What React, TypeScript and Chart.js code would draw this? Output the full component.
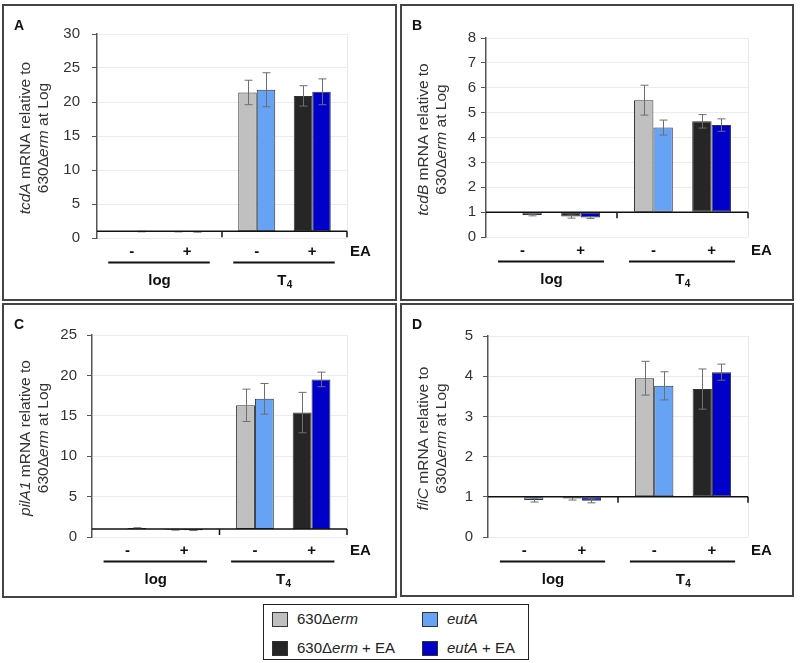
import React, { useEffect, useRef } from 'react';
import { Chart, registerables } from 'chart.js';

Chart.register(...registerables);

const FONT = '"Liberation Sans", Arial, Helvetica, sans-serif';

// ---- shared categories / labels ----
const groups = ['log', 'T4'];
const eaSigns = ['-', '+'];
const seriesLabels = ['630Δerm', 'eutA', '630Δerm + EA', 'eutA + EA'];
const seriesColors = ['#c0c0c0', '#66a3f5', '#262626', '#0000c8'];

// ---- Panel A: tcdA ----
const tcdA_wt = [1.0, 21.4];
const tcdA_wt_err = [0.0, 1.8];
const tcdA_eutA = [0.95, 21.8];
const tcdA_eutA_err = [0.04, 2.5];
const tcdA_wtEA = [0.93, 20.9];
const tcdA_wtEA_err = [0.03, 1.5];
const tcdA_eutAEA = [0.9, 21.5];
const tcdA_eutAEA_err = [0.04, 1.9];

// ---- Panel B: tcdB ----
const tcdB_wt = [1.0, 5.5];
const tcdB_wt_err = [0.0, 0.6];
const tcdB_eutA = [0.88, 4.4];
const tcdB_eutA_err = [0.03, 0.3];
const tcdB_wtEA = [0.82, 4.65];
const tcdB_wtEA_err = [0.06, 0.27];
const tcdB_eutAEA = [0.78, 4.5];
const tcdB_eutAEA_err = [0.04, 0.25];

// ---- Panel C: pilA1 ----
const pilA1_wt = [1.0, 16.3];
const pilA1_wt_err = [0.0, 2.0];
const pilA1_eutA = [1.1, 17.1];
const pilA1_eutA_err = [0.05, 1.9];
const pilA1_wtEA = [0.9, 15.4];
const pilA1_wtEA_err = [0.05, 2.5];
const pilA1_eutAEA = [0.85, 19.5];
const pilA1_eutAEA_err = [0.05, 0.9];

// ---- Panel D: fliC ----
const fliC_wt = [1.0, 3.95];
const fliC_wt_err = [0.0, 0.42];
const fliC_eutA = [0.92, 3.76];
const fliC_eutA_err = [0.05, 0.35];
const fliC_wtEA = [0.96, 3.68];
const fliC_wtEA_err = [0.04, 0.5];
const fliC_eutAEA = [0.9, 4.1];
const fliC_eutAEA_err = [0.05, 0.2];

// y-axis ranges
const yMaxA = 30, yStepA = 5;
const yMaxB = 8, yStepB = 1;
const yMaxC = 25, yStepC = 5;
const yMaxD = 5, yStepD = 1;

type Seg = { t: string; i?: boolean };

type PanelCfg = {
  letter: string;
  gene: string;
  box: { left: number; top: number; w: number; h: number };
  area: { l: number; r: number; t: number; b: number };
  yMax: number;
  step: number;
  tickPad: number;
  values: number[][];
  errors: number[][];
};

const panels: PanelCfg[] = [
  {
    letter: 'A', gene: 'tcdA',
    box: { left: 2, top: 4, w: 395, h: 297 },
    area: { l: 97, r: 347, t: 34, b: 238 },
    yMax: yMaxA, step: yStepA, tickPad: 12,
    values: [tcdA_wt, tcdA_eutA, tcdA_wtEA, tcdA_eutAEA],
    errors: [tcdA_wt_err, tcdA_eutA_err, tcdA_wtEA_err, tcdA_eutAEA_err],
  },
  {
    letter: 'B', gene: 'tcdB',
    box: { left: 400, top: 4, w: 394, h: 297 },
    area: { l: 486, r: 748, t: 38, b: 237 },
    yMax: yMaxB, step: yStepB, tickPad: 5,
    values: [tcdB_wt, tcdB_eutA, tcdB_wtEA, tcdB_eutAEA],
    errors: [tcdB_wt_err, tcdB_eutA_err, tcdB_wtEA_err, tcdB_eutAEA_err],
  },
  {
    letter: 'C', gene: 'pilA1',
    box: { left: 2, top: 303, w: 395, h: 295 },
    area: { l: 92, r: 347, t: 335, b: 537 },
    yMax: yMaxC, step: yStepC, tickPad: 10,
    values: [pilA1_wt, pilA1_eutA, pilA1_wtEA, pilA1_eutAEA],
    errors: [pilA1_wt_err, pilA1_eutA_err, pilA1_wtEA_err, pilA1_eutAEA_err],
  },
  {
    letter: 'D', gene: 'fliC',
    box: { left: 400, top: 303, w: 394, h: 294 },
    area: { l: 488, r: 748, t: 336, b: 537 },
    yMax: yMaxD, step: yStepD, tickPad: 10,
    values: [fliC_wt, fliC_eutA, fliC_wtEA, fliC_eutAEA],
    errors: [fliC_wt_err, fliC_eutA_err, fliC_wtEA_err, fliC_eutAEA_err],
  },
];

function fontStr(size: number, italic = false, bold = false) {
  return `${italic ? 'italic ' : ''}${bold ? 'bold ' : ''}${size}px ${FONT}`;
}

function drawSegs(ctx: CanvasRenderingContext2D, segs: Seg[], x: number, y: number, size: number, bold = false) {
  const widths = segs.map((s) => {
    ctx.font = fontStr(size, !!s.i, bold);
    return ctx.measureText(s.t).width;
  });
  const total = widths.reduce((a, b) => a + b, 0);
  let cx = x - total / 2;
  ctx.textAlign = 'left';
  segs.forEach((s, k) => {
    ctx.font = fontStr(size, !!s.i, bold);
    ctx.fillText(s.t, cx, y);
    cx += widths[k];
  });
}

function makePlugin(p: PanelCfg) {
  return {
    id: 'decor' + p.letter,
    beforeDatasetsDraw(chart: any) {
      const { ctx, chartArea: a } = chart;
      ctx.save();
      ctx.strokeStyle = '#e8e8e8';
      ctx.lineWidth = 1;
      ctx.beginPath();
      ctx.moveTo(a.right + 0.5, a.top);
      ctx.lineTo(a.right + 0.5, a.bottom);
      ctx.stroke();
      ctx.restore();
    },
    afterDatasetsDraw(chart: any) {
      const { ctx, chartArea: a, scales } = chart;
      const y = scales.y;
      const x = scales.x;
      ctx.save();
      // error bars
      chart.data.datasets.forEach((ds: any, di: number) => {
        const errs = ds.errors;
        if (!errs) return;
        const meta = chart.getDatasetMeta(di);
        meta.data.forEach((el: any, k: number) => {
          const v = ds.data[k];
          const e = errs[k];
          if (v == null || !e) return;
          const top = y.getPixelForValue(v + e);
          const bot = y.getPixelForValue(v - e);
          const px = Math.round(el.x) + 0.5;
          ctx.strokeStyle = '#6e6e6e';
          ctx.lineWidth = 1;
          ctx.beginPath();
          ctx.moveTo(px, top);
          ctx.lineTo(px, bot);
          ctx.moveTo(px - 4, top);
          ctx.lineTo(px + 4, top);
          ctx.moveTo(px - 4, bot);
          ctx.lineTo(px + 4, bot);
          ctx.stroke();
        });
      });
      // horizontal axis crossing at 1
      const y1 = y.getPixelForValue(1);
      ctx.strokeStyle = '#111';
      ctx.lineWidth = 1.5;
      ctx.beginPath();
      ctx.moveTo(a.left, y1);
      ctx.lineTo(a.right, y1);
      const mid = (x.getPixelForValue(0) + x.getPixelForValue(1)) / 2;
      ctx.moveTo(mid, y1);
      ctx.lineTo(mid, y1 + 6);
      ctx.moveTo(a.right, y1);
      ctx.lineTo(a.right, y1 + 6);
      ctx.stroke();
      ctx.restore();
    },
    afterDraw(chart: any) {
      const { ctx, chartArea: a, scales } = chart;
      const x = scales.x;
      ctx.save();
      ctx.fillStyle = '#111';
      ctx.textBaseline = 'middle';
      const m0 = chart.getDatasetMeta(0);
      const m1 = chart.getDatasetMeta(1);
      const m3 = chart.getDatasetMeta(3);
      const m4 = chart.getDatasetMeta(4);
      groups.forEach((g, i) => {
        const minusX = (m0.data[i].x + m1.data[i].x) / 2;
        const plusX = (m3.data[i].x + m4.data[i].x) / 2;
        ctx.font = fontStr(15, false, true);
        ctx.textAlign = 'center';
        ctx.fillText(eaSigns[0], minusX, a.bottom + 14);
        ctx.fillText(eaSigns[1], plusX, a.bottom + 14);
        const w = m0.data[i].width;
        const lx0 = m0.data[i].x - w / 2 - 5;
        const lx1 = m4.data[i].x + w / 2 + 4;
        ctx.fillRect(lx0, a.bottom + 23.5, lx1 - lx0, 2);
        const cx = x.getPixelForValue(i);
        if (g === 'T4') {
          ctx.font = fontStr(15, false, true);
          const tw = ctx.measureText('T').width;
          ctx.font = fontStr(10, false, true);
          const sw = ctx.measureText('4').width;
          const sx = cx - (tw + sw) / 2;
          ctx.textAlign = 'left';
          ctx.font = fontStr(15, false, true);
          ctx.fillText('T', sx, a.bottom + 43);
          ctx.font = fontStr(10, false, true);
          ctx.fillText('4', sx + tw + 0.5, a.bottom + 47);
        } else {
          ctx.font = fontStr(15, false, true);
          ctx.textAlign = 'center';
          ctx.fillText(g, cx, a.bottom + 43);
        }
      });
      ctx.font = fontStr(15, false, true);
      ctx.textAlign = 'left';
      ctx.fillText('EA', a.right + 3, a.bottom + 14);

      // panel letter
      ctx.textBaseline = 'alphabetic';
      ctx.font = fontStr(14, false, true);
      ctx.fillStyle = '#111';
      ctx.fillText(p.letter, 10, 24);

      // y-axis title (two rotated lines)
      ctx.fillStyle = '#333';
      ctx.textBaseline = 'middle';
      const cy = (a.top + a.bottom) / 2 + 2;
      const line1: Seg[] = [{ t: p.gene, i: true }, { t: ' mRNA relative to' }];
      const line2: Seg[] = [{ t: '630Δ' }, { t: 'erm', i: true }, { t: ' at Log' }];
      [[line1, 22], [line2, 40]].forEach(([segs, lx]: any) => {
        ctx.save();
        ctx.translate(lx, cy);
        ctx.rotate(-Math.PI / 2);
        drawSegs(ctx, segs, 0, 0, 15.5);
        ctx.restore();
      });
      ctx.restore();
    },
  };
}

function Panel({ p }: { p: PanelCfg }) {
  const ref = useRef<HTMLCanvasElement>(null);
  const b = p.box;
  const cl = b.left + 2;
  const ct = b.top + 2;
  const cw = b.w - 4;
  const ch = b.h - 4;
  useEffect(() => {
    if (!ref.current) return;
    const yWidth = p.area.l - cl;
    const slotOrder = [0, 1, -1, 2, 3];
    const datasets = slotOrder.map((si) => {
      if (si < 0) {
        return {
          label: '',
          data: groups.map(() => null),
          backgroundColor: 'rgba(0,0,0,0)',
          borderWidth: 0,
          categoryPercentage: 0.74,
          barPercentage: 1.0,
        };
      }
      return {
        label: seriesLabels[si],
        data: p.values[si],
        errors: p.errors[si],
        base: 1,
        backgroundColor: seriesColors[si],
        borderColor: '#333',
        borderWidth: 1,
        borderSkipped: false,
        categoryPercentage: 0.74,
        barPercentage: 1.0,
      };
    });
    const chart = new Chart(ref.current, {
      type: 'bar',
      data: { labels: groups, datasets: datasets as any },
      options: {
        responsive: false,
        animation: false,
        devicePixelRatio: 1,
        layout: {
          padding: {
            left: 0,
            top: p.area.t - ct,
            right: cw - (p.area.r - cl),
            bottom: ch - (p.area.b - ct),
          },
        },
        plugins: { legend: { display: false }, tooltip: { enabled: false } },
        scales: {
          x: { type: 'category', display: false, offset: true, grid: { display: false } },
          y: {
            min: 0,
            max: p.yMax,
            ticks: {
              stepSize: p.step,
              color: '#333',
              padding: p.tickPad,
              font: { family: FONT, size: 15 },
            },
            grid: { color: '#ececec', tickColor: '#555', tickLength: 5, drawTicks: true },
            border: { color: '#555', width: 1.5 },
            afterFit: (s: any) => {
              s.width = yWidth;
            },
          },
        },
      } as any,
      plugins: [makePlugin(p) as any],
    });
    return () => chart.destroy();
  }, []);
  return (
    <div
      style={{
        position: 'absolute',
        left: b.left,
        top: b.top,
        width: b.w,
        height: b.h,
        border: '2px solid #444',
        boxSizing: 'border-box',
        background: '#fff',
      }}
    >
      <canvas ref={ref} width={cw} height={ch} style={{ display: 'block', width: cw, height: ch }} />
    </div>
  );
}

function LegendItem({ color, label, left, top }: { color: string; label: React.ReactNode; left: number; top: number }) {
  return (
    <div style={{ position: 'absolute', left, top, height: 16, display: 'flex', alignItems: 'center' }}>
      <div style={{ width: 16, height: 15, background: color, border: '1px solid #333', boxSizing: 'border-box' }} />
      <div style={{ marginLeft: 9, fontSize: 15, color: '#222', whiteSpace: 'nowrap', lineHeight: '16px' }}>{label}</div>
    </div>
  );
}

function Legend() {
  return (
    <div
      style={{
        position: 'absolute',
        left: 263,
        top: 604,
        width: 266,
        height: 56,
        border: '1.5px solid #222',
        boxSizing: 'border-box',
        fontFamily: FONT,
      }}
    >
      <LegendItem color={seriesColors[0]} left={8} top={6} label={<>630Δ<i>erm</i></>} />
      <LegendItem color={seriesColors[1]} left={158} top={6} label={<i>eutA</i>} />
      <LegendItem color={seriesColors[2]} left={8} top={35} label={<>630Δ<i>erm</i> + EA</>} />
      <LegendItem color={seriesColors[3]} left={158} top={35} label={<><i>eutA</i> + EA</>} />
    </div>
  );
}

export default function App() {
  return (
    <div style={{ position: 'absolute', left: 0, top: 0, width: 800, height: 663, background: '#fff', fontFamily: FONT }}>
      {panels.map((p) => (
        <Panel key={p.letter} p={p} />
      ))}
      <Legend />
    </div>
  );
}
